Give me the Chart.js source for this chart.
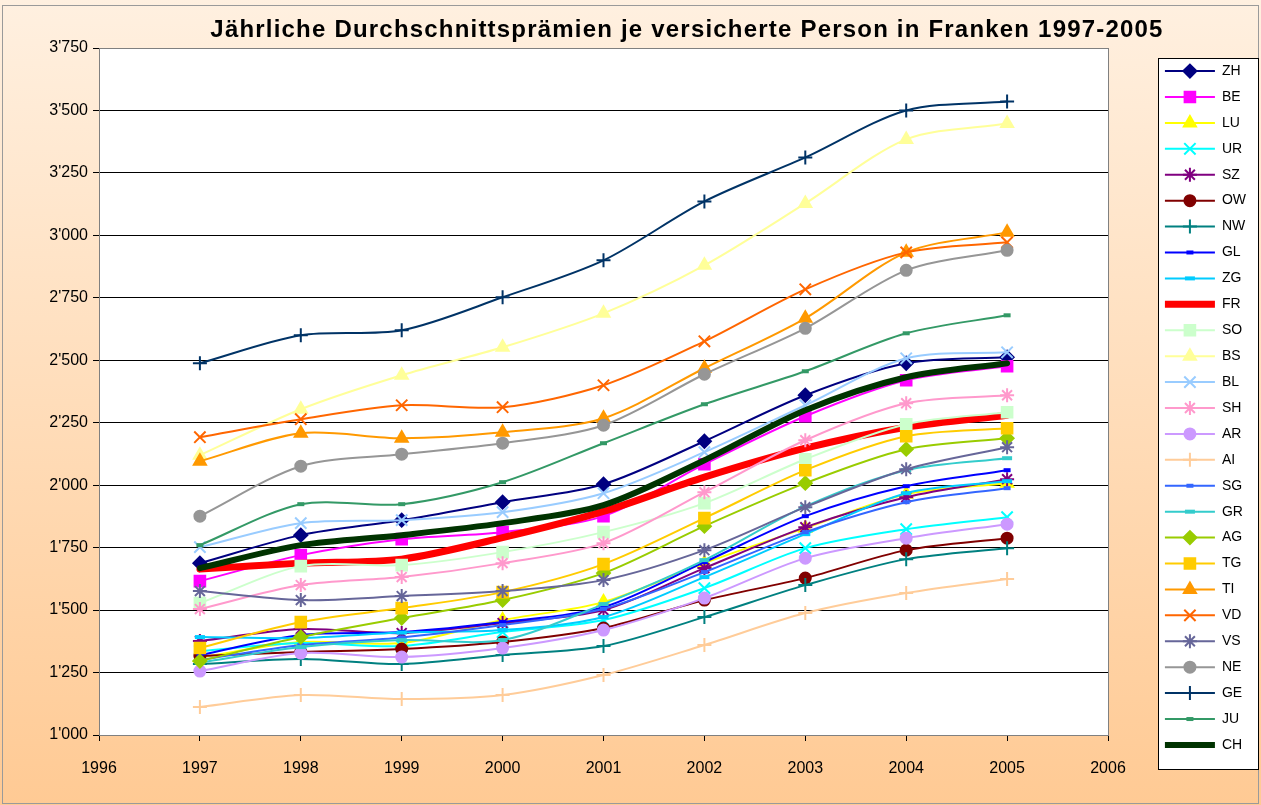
<!DOCTYPE html>
<html>
<head>
  <title>Durchschnittsprämien 1997-2005</title>
  <script src="https://cdn.jsdelivr.net/npm/chart.js"></script>
  <style>
    html, body { margin: 0; padding: 0; background: #fff; }
    #wrap { width: 1261px; height: 805px; }
  </style>
</head>
<body>
  <div id="wrap"><canvas id="myChart" width="1261" height="805"></canvas></div>
  <script>
    // Jahre und Prämien (Franken) je Kanton
    const years = [1997, 1998, 1999, 2000, 2001, 2002, 2003, 2004, 2005];

    const ZH = [1688, 1800, 1860, 1932, 2004, 2176, 2360, 2488, 2512];
    const BE = [1616, 1720, 1784, 1812, 1876, 2084, 2276, 2420, 2476];
    const LU = [1310, 1372, 1368, 1460, 1532, 1688, 1828, 1964, 2008];
    const UR = [1336, 1368, 1356, 1412, 1460, 1588, 1748, 1824, 1872];
    const SZ = [1376, 1424, 1408, 1448, 1500, 1668, 1832, 1952, 2024];
    const OW = [1316, 1332, 1344, 1372, 1428, 1540, 1628, 1740, 1788];
    const NW = [1284, 1304, 1284, 1320, 1356, 1472, 1600, 1704, 1748];
    const GL = [1320, 1400, 1412, 1452, 1512, 1692, 1876, 1996, 2060];
    const ZG = [1392, 1388, 1410, 1420, 1472, 1632, 1804, 1968, 2016];
    const FR = [1664, 1688, 1704, 1790, 1895, 2032, 2148, 2232, 2280];
    const SO = [1528, 1676, 1680, 1732, 1812, 1928, 2104, 2244, 2292];
    const BS = [2120, 2304, 2440, 2552, 2688, 2880, 3128, 3384, 3448];
    const BL = [1752, 1848, 1860, 1892, 1968, 2132, 2320, 2508, 2532];
    const SH = [1504, 1600, 1632, 1688, 1768, 1972, 2180, 2328, 2360];
    const AR = [1256, 1328, 1312, 1348, 1420, 1548, 1708, 1788, 1844];
    const AI = [1112, 1160, 1144, 1160, 1240, 1360, 1488, 1568, 1624];
    const SG = [1300, 1360, 1390, 1440, 1505, 1652, 1812, 1932, 1988];
    const GR = [1290, 1352, 1380, 1380, 1524, 1700, 1915, 2060, 2108];
    const AG = [1296, 1392, 1468, 1540, 1648, 1836, 2008, 2144, 2188];
    const TG = [1348, 1452, 1508, 1572, 1684, 1868, 2060, 2196, 2228];
    const TI = [2096, 2208, 2188, 2212, 2268, 2468, 2668, 2932, 3012];
    const VD = [2192, 2264, 2320, 2312, 2400, 2576, 2784, 2932, 2972];
    const VS = [1576, 1540, 1556, 1576, 1620, 1740, 1912, 2064, 2152];
    const NE = [1876, 2076, 2124, 2168, 2240, 2444, 2628, 2860, 2940];
    const GE = [2488, 2600, 2620, 2752, 2900, 3136, 3312, 3500, 3536];
    const JU = [1760, 1924, 1924, 2012, 2168, 2324, 2456, 2608, 2680];
    const CH = [1668, 1760, 1800, 1848, 1920, 2100, 2300, 2432, 2488];

    const cantons = ['ZH','BE','LU','UR','SZ','OW','NW','GL','ZG','FR','SO','BS','BL','SH',
                     'AR','AI','SG','GR','AG','TG','TI','VD','VS','NE','GE','JU','CH'];
    const values = {ZH, BE, LU, UR, SZ, OW, NW, GL, ZG, FR, SO, BS, BL, SH,
                    AR, AI, SG, GR, AG, TG, TI, VD, VS, NE, GE, JU, CH};

    // Darstellung (Farbe, Marker, Grösse, Linienbreite)
    const styles = {
      ZH: ['#000080', 'rectRot', 6.5, 2],
      BE: ['#FF00FF', 'rect', 7.5, 2],
      LU: ['#FFFF00', 'triangle', 7, 2],
      UR: ['#00FFFF', 'crossRot', 8, 2],
      SZ: ['#800080', 'star', 7, 2],
      OW: ['#800000', 'circle', 5.5, 2],
      NW: ['#008080', 'cross', 7, 2],
      GL: ['#0000FF', 'line', 3.5, 2],
      ZG: ['#00CCFF', 'line', 5, 2],
      FR: ['#FF0000', false, 0, 7],
      SO: ['#CCFFCC', 'rect', 7.5, 2],
      BS: ['#FFFF99', 'triangle', 7, 2],
      BL: ['#99CCFF', 'crossRot', 8, 2],
      SH: ['#FF99CC', 'star', 7, 2],
      AR: ['#CC99FF', 'circle', 5.5, 2],
      AI: ['#FFCC99', 'cross', 7, 2],
      SG: ['#3366FF', 'line', 3.5, 2],
      GR: ['#33CCCC', 'line', 5, 2],
      AG: ['#99CC00', 'rectRot', 6.5, 2],
      TG: ['#FFCC00', 'rect', 7.5, 2],
      TI: ['#FF9900', 'triangle', 7, 2],
      VD: ['#FF6600', 'crossRot', 8, 2],
      VS: ['#666699', 'star', 7, 2],
      NE: ['#969696', 'circle', 5.5, 2],
      GE: ['#003366', 'cross', 7, 2],
      JU: ['#339966', 'line', 3.5, 2],
      CH: ['#003300', false, 0, 6]
    };

    function fmt(v) {
      const t = Math.floor(v / 1000);
      const r = String(v % 1000).padStart(3, '0');
      return t + "'" + r;
    }

    const datasets = cantons.map((c, i) => {
      const [color, marker, radius, width] = styles[c];
      return {
        label: c,
        data: years.map((y, j) => ({ x: y, y: values[c][j] })),
        borderColor: color,
        backgroundColor: color,
        borderWidth: width,
        borderCapStyle: width > 3 ? 'round' : 'butt',
        pointStyle: marker,
        pointRadius: radius,
        pointHoverRadius: radius,
        pointBackgroundColor: color,
        pointBorderColor: color,
        pointBorderWidth: marker === 'line' ? 4 : 2,
        tension: 0.3,
        order: cantons.length - i
      };
    });

    const bgPlugin = {
      id: 'bg',
      afterInit(chart) {
        // etwas gesperrter Titel wie im Original
        const tb = chart.titleBlock;
        const orig = tb.draw;
        tb.draw = function () {
          chart.ctx.save();
          chart.ctx.letterSpacing = '1.2px';
          orig.apply(this, arguments);
          chart.ctx.restore();
        };
      },
      afterLayout(chart) {
        if (chart.titleBlock) {
          chart.titleBlock.left = 113;
          chart.titleBlock.right = chart.width;
        }
        // Abstand zwischen Diagrammfläche und Legende
        chart.legend.left += 45;
        chart.legend.right += 45;
      },
      beforeDraw(chart) {
        const { ctx, width, height, chartArea: a, legend } = chart;
        ctx.save();
        const g = ctx.createLinearGradient(0, 0, 0, height);
        g.addColorStop(0, '#FFF0E0');
        g.addColorStop(1, '#FFCA94');
        ctx.fillStyle = g;
        ctx.fillRect(0, 0, width, height);
        ctx.strokeStyle = '#9a9a9a';
        ctx.lineWidth = 1;
        ctx.strokeRect(2.5, 5.5, width - 5, height - 7);
        ctx.fillStyle = '#ffffff';
        ctx.fillRect(a.left, a.top, a.right - a.left, a.bottom - a.top);

        const boxes = legend.legendHitBoxes;
        if (boxes && boxes.length) {
          const first = boxes[0], last = boxes[boxes.length - 1];
          const x0 = Math.round(first.left - 7) + 0.5, y0 = Math.round(first.top - 6) + 0.5;
          const h = Math.round(last.top + last.height + 18 - y0);
          ctx.fillStyle = '#ffffff';
          ctx.fillRect(x0, y0, 100, h);
          ctx.strokeStyle = '#000000';
          ctx.strokeRect(x0, y0, 100, h);
        }
        ctx.restore();
      },
      afterDraw(chart) {
        const { ctx, chartArea: a } = chart;
        ctx.save();
        ctx.strokeStyle = '#808080';
        ctx.lineWidth = 1;
        ctx.strokeRect(a.left + 0.5, a.top + 0.5, a.right - a.left, a.bottom - a.top);
        ctx.restore();
      }
    };

    // Marker in die Legendenlinien setzen
    const legendMarkers = {
      id: 'legendMarkers',
      afterDraw(chart) {
        const { ctx, legend } = chart;
        const boxW = legend.options.labels.boxWidth;
        legend.legendItems.forEach((item, i) => {
          const ds = chart.data.datasets[item.datasetIndex];
          const hb = legend.legendHitBoxes[i];
          if (!ds.pointStyle || !hb) return;
          ctx.save();
          ctx.fillStyle = ds.pointBackgroundColor;
          ctx.strokeStyle = ds.pointBorderColor;
          ctx.lineWidth = ds.pointBorderWidth;
          Chart.helpers.drawPoint(ctx, {
            pointStyle: ds.pointStyle,
            radius: ds.pointRadius,
            rotation: 0,
            borderWidth: ds.pointBorderWidth
          }, hb.left + boxW / 2, hb.top + hb.height / 2);
          ctx.restore();
        });
      }
    };

    const ctx = document.getElementById('myChart').getContext('2d');
    new Chart(ctx, {
      type: 'line',
      data: { datasets },
      plugins: [bgPlugin, legendMarkers],
      options: {
        responsive: false,
        animation: false,
        events: [],
        layout: { padding: { top: 11, right: 14, bottom: 0, left: 0 } },
        scales: {
          x: {
            type: 'linear',
            min: 1996,
            max: 2006,
            ticks: {
              stepSize: 1,
              color: '#000',
              padding: 18,
              font: { family: 'Liberation Sans, Arial', size: 16 },
              callback: v => String(v)
            },
            grid: { drawOnChartArea: false, drawTicks: true, tickLength: 6, color: '#000' },
            border: { color: '#808080', width: 1 },
            afterFit(scale) {
              scale.height = 70;
              scale.paddingRight = 153;
            }
          },
          y: {
            min: 1000,
            max: 3750,
            ticks: {
              stepSize: 250,
              color: '#000',
              padding: 5,
              font: { family: 'Liberation Sans, Arial', size: 16 },
              callback: v => fmt(v)
            },
            grid: { color: '#000', lineWidth: 1, tickLength: 6 },
            border: { color: '#808080', width: 1 },
            afterFit(scale) {
              scale.width = 99;
            }
          }
        },
        plugins: {
          title: {
            display: true,
            text: 'Jährliche Durchschnittsprämien je versicherte Person in Franken 1997-2005',
            color: '#000',
            font: { family: 'Liberation Sans, Arial', size: 24, weight: 'bold' },
            padding: { top: 4.6, bottom: 3.6 }
          },
          legend: {
            position: 'right',
            labels: {
              color: '#000',
              boxWidth: 50,
              boxHeight: 0,
              padding: 11.92,
              font: { family: 'Liberation Sans, Arial', size: 14 },
              sort: (a, b) => a.datasetIndex - b.datasetIndex
            }
          },
          tooltip: { enabled: false }
        }
      }
    });
  </script>
</body>
</html>
